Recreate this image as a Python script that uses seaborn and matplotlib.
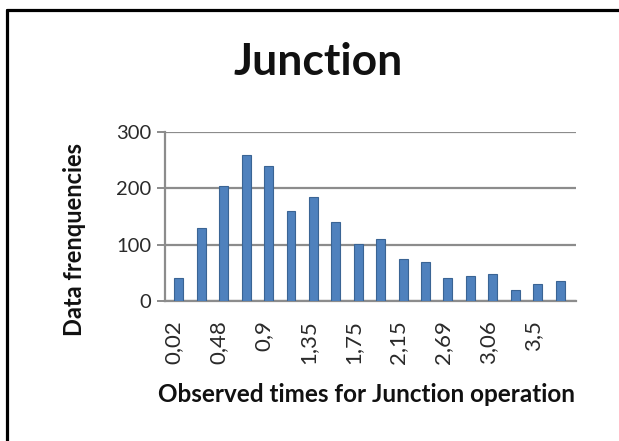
import numpy as np
import pandas as pd
import matplotlib
matplotlib.use("Agg")
import matplotlib.pyplot as plt
import matplotlib.transforms as mtransforms
from matplotlib.lines import Line2D
import seaborn as sns

# Frequency of observed junction-operation times, one bar per time bin
frequencies = [40, 130, 205, 260, 240, 160, 185, 140, 102, 110, 75, 70, 40, 45, 48, 20, 30, 35]
# Bin labels shown under every other bar
tick_labels = ["0,02", "0,48", "0,9", "1,35", "1,75", "2,15", "2,69", "3,06", "3,5"]
y_ticks = [0, 100, 200, 300]

sns.set_theme(style="white")
plt.rcParams["font.family"] = ["Lato", "DejaVu Sans"]

W, H = 619, 441
fig = plt.figure(figsize=(W / 100, H / 100), dpi=100)
fig.patch.set_facecolor("white")

ax = fig.add_axes([165 / W, (H - 301) / H, 411 / W, 169 / H])

df = pd.DataFrame({"bin": np.arange(len(frequencies)), "count": frequencies})
sns.barplot(data=df, x="bin", y="count", ax=ax, color="#4F81BD",
            width=0.4, saturation=1, edgecolor="#3A6494", linewidth=0.8,
            zorder=3)

ax.set_xlim(-0.62, len(frequencies) - 1 + 0.71)
ax.set_ylim(0, 300)

grid_c = "#8C8C8C"
ax.set_yticks(y_ticks)
ax.yaxis.grid(True, color=grid_c, linewidth=1.6, zorder=0)
ax.xaxis.grid(False)
for side in ["top", "right"]:
    ax.spines[side].set_visible(False)
for side in ["left", "bottom"]:
    ax.spines[side].set_color(grid_c)
    ax.spines[side].set_linewidth(1.6)

ax.tick_params(axis="y", left=True, length=6, width=1.4, color=grid_c,
               pad=4, labelsize=14.5, labelcolor="#2a2a2a")
ax.set_xticks(np.arange(0, len(frequencies), 2))
ax.set_xticklabels(tick_labels, rotation=90)
ax.tick_params(axis="x", bottom=False, length=0, pad=14, labelsize=16,
               labelcolor="#2a2a2a")
shift = mtransforms.ScaledTranslation(-5 / 100, 0, fig.dpi_scale_trans)
for lab in ax.get_xticklabels():
    lab.set_transform(lab.get_transform() + shift)

ax.set_xlabel("")
ax.set_ylabel("")

fig.text(318 / W, 1 - 62 / H, "Junction", ha="center", va="center",
         fontsize=32, fontweight="bold", color="#111111")
fig.text(367 / W, 1 - 395 / H, "Observed times for Junction operation",
         ha="center", va="center", fontsize=17.5, fontweight="bold",
         color="#111111")
fig.text(75 / W, 1 - 240 / H, "Data frenquencies", ha="center", va="center",
         rotation=90, fontsize=17, fontweight="bold", color="#111111")

# Frame lines along the top and left edges
fig.add_artist(Line2D([7 / W, 1.0], [1 - 10 / H, 1 - 10 / H],
                      transform=fig.transFigure, color="black", linewidth=2.3))
fig.add_artist(Line2D([7 / W, 7 / W], [0.0, 1 - 10 / H],
                      transform=fig.transFigure, color="black", linewidth=2.3))

fig.savefig("out.png", dpi=100)
